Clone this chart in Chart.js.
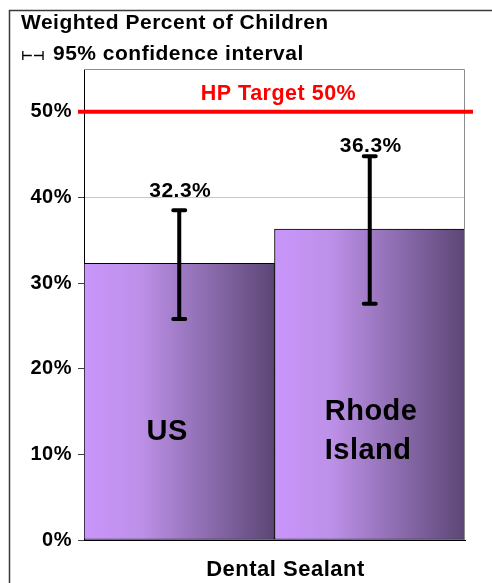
<!DOCTYPE html>
<html>
<head>
<meta charset="utf-8">
<script src="https://cdn.jsdelivr.net/npm/chart.js@4"></script>
<style>
  html, body { margin: 0; padding: 0; background: #fff; }
  canvas { display: block; }
</style>
</head>
<body>
<canvas id="myChart" width="492" height="583"></canvas>
<script>
// chart values
const categories = ["Dental Sealant"];
const groups = ["US", "Rhode Island"];
const percentValues = [32.3, 36.3];
const ciLower = [25.8, 27.6];
const ciUpper = [38.5, 44.8];
const targetValue = 50;
const targetLabel = "HP Target 50%";
const yTicks = [0, 10, 20, 30, 40, 50];

const FONT = '"Liberation Sans", Arial, sans-serif';

function barGradient(c) {
  const chart = c.chart;
  const area = chart.chartArea;
  if (!area) return "#b48ce0";
  const half = (area.right - area.left) / groups.length;
  const x0 = area.left + half * c.datasetIndex;
  const g = chart.ctx.createLinearGradient(x0, 0, x0 + half, 0);
  g.addColorStop(0, "#c996fb");
  g.addColorStop(0.3, "#bd90e8");
  g.addColorStop(0.65, "#8c6cae");
  g.addColorStop(1, "#5c4676");
  return g;
}

const overlay = {
  id: "overlay",
  beforeDraw(chart) {
    chart.ctx.letterSpacing = "0.5px";
  },
  afterDatasetsDraw(chart) {
    const ctx = chart.ctx;
    const area = chart.chartArea;
    const y = chart.scales.y;

    // plot frame top + right
    ctx.save();
    ctx.strokeStyle = "#8c8c8c";
    ctx.lineWidth = 1;
    ctx.beginPath();
    ctx.moveTo(area.left, area.top + 0.5);
    ctx.lineTo(area.right - 0.5, area.top + 0.5);
    ctx.lineTo(area.right - 0.5, area.bottom);
    ctx.stroke();
    ctx.restore();

    // target line
    const ty = y.getPixelForValue(targetValue);
    ctx.save();
    ctx.strokeStyle = "#ff0000";
    ctx.lineWidth = 4;
    ctx.beginPath();
    ctx.moveTo(area.left - 6, ty);
    ctx.lineTo(area.right + 8, ty);
    ctx.stroke();
    ctx.fillStyle = "#ff0000";
    ctx.font = "bold 21.5px " + FONT;
    ctx.textAlign = "center";
    ctx.textBaseline = "alphabetic";
    ctx.fillText(targetLabel, (area.left + area.right) / 2 + 4, ty - 12);
    ctx.restore();

    // error bars + value labels
    const labelLift = [13, 4];
    groups.forEach((g, i) => {
      const bar = chart.getDatasetMeta(i).data[0];
      const x = bar.x;
      const yTop = y.getPixelForValue(ciUpper[i]);
      const yBot = y.getPixelForValue(ciLower[i]);
      ctx.save();
      ctx.strokeStyle = "#000";
      ctx.lineWidth = 4;
      ctx.lineCap = "round";
      ctx.beginPath();
      ctx.moveTo(x, yTop);
      ctx.lineTo(x, yBot);
      ctx.moveTo(x - 6, yTop);
      ctx.lineTo(x + 6, yTop);
      ctx.moveTo(x - 6, yBot);
      ctx.lineTo(x + 6, yBot);
      ctx.stroke();

      ctx.fillStyle = "#000";
      ctx.font = "bold 21px " + FONT;
      ctx.textAlign = "center";
      ctx.textBaseline = "alphabetic";
      ctx.fillText(percentValues[i].toFixed(1) + "%", x + 1, yTop - labelLift[i]);
      ctx.restore();
    });

    // names inside bars
    ctx.save();
    ctx.fillStyle = "#000";
    ctx.font = "bold 29px " + FONT;
    ctx.textBaseline = "alphabetic";
    const b0 = chart.getDatasetMeta(0).data[0];
    ctx.textAlign = "center";
    ctx.fillText(groups[0], b0.x - 12, area.bottom - 100);
    const b1 = chart.getDatasetMeta(1).data[0];
    ctx.textAlign = "left";
    const words = groups[1].split(" ");
    ctx.fillText(words[0], b1.x - 45, area.bottom - 120);
    ctx.fillText(words[1], b1.x - 45, area.bottom - 81);
    ctx.restore();
  },
  afterDraw(chart) {
    const ctx = chart.ctx;
    ctx.save();
    // outer frame
    ctx.strokeStyle = "#3a3a3a";
    ctx.lineWidth = 1.5;
    ctx.strokeRect(9.5, 10.5, 600, 700);

    ctx.fillStyle = "#000";
    ctx.font = "bold 21px " + FONT;
    ctx.textAlign = "left";
    ctx.textBaseline = "alphabetic";
    ctx.fillText("Weighted Percent of Children", 21, 28.5);
    ctx.fillText("95% confidence interval", 53, 59.5);

    // small error-bar symbol
    ctx.letterSpacing = "0px";
    ctx.font = "bold 15px DejaVu Sans";
    const sym = "\u22A2\u22A3";
    const w = ctx.measureText(sym).width;
    ctx.translate(21, 60);
    ctx.scale(24 / w, 0.85);
    ctx.fillText(sym, 0, 0);
    ctx.restore();
  }
};

const ctx = document.getElementById("myChart").getContext("2d");
const myChart = new Chart(ctx, {
  type: "bar",
  data: {
    labels: categories,
    datasets: groups.map((g, i) => ({
      label: g,
      data: [percentValues[i]],
      backgroundColor: barGradient,
      borderColor: "#000",
      borderWidth: 1,
      borderSkipped: false,
      barPercentage: 1,
      categoryPercentage: 1,
    })),
  },
  options: {
    responsive: false,
    animation: false,
    layout: { padding: { top: 69, right: 27, left: 0, bottom: 0 } },
    plugins: { legend: { display: false }, tooltip: { enabled: false } },
    scales: {
      x: {
        grid: { display: false },
        border: { display: true, color: "#000", width: 1 },
        ticks: {
          color: "#000",
          font: { family: FONT, size: 22, weight: "bold" },
          padding: 9,
          labelOffset: 11,
        },
        afterFit: (s) => { s.height = 43; },
      },
      y: {
        min: 0,
        max: 55,
        afterBuildTicks: (s) => { s.ticks = yTicks.map((v) => ({ value: v })); },
        afterFit: (s) => { s.width = 84; },
        grid: { color: "#c8c8c8", tickColor: "#404040", tickLength: 6 },
        border: { display: true, color: "#000", width: 1 },
        ticks: {
          color: "#000",
          padding: 6,
          font: { family: FONT, size: 20, weight: "bold" },
          callback: (v) => v + "%",
        },
      },
    },
  },
  plugins: [overlay],
});
</script>
</body>
</html>
